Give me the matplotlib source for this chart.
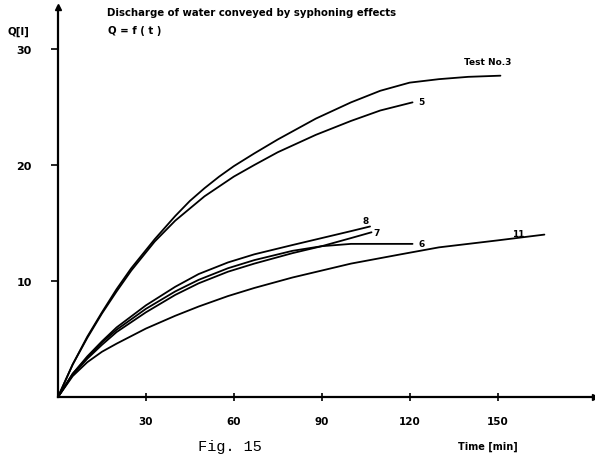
import matplotlib
matplotlib.use("Agg")
import matplotlib.pyplot as plt

# --- data ---
t3 = [0, 5, 10, 15, 20, 25, 33, 40, 45, 50, 55, 60, 67, 75, 88, 100, 110, 120, 130, 140, 151]
q3 = [0, 2.8, 5.2, 7.3, 9.3, 11.1, 13.6, 15.6, 16.9, 18.0, 19.0, 19.9, 21.0, 22.2, 24.0, 25.4, 26.4, 27.1, 27.4, 27.6, 27.7]

t5 = [0, 5, 10, 15, 20, 25, 33, 40, 50, 60, 67, 75, 88, 100, 110, 121]
q5 = [0, 2.8, 5.1, 7.2, 9.1, 10.9, 13.4, 15.2, 17.3, 19.0, 20.0, 21.1, 22.6, 23.8, 24.7, 25.4]

t8 = [0, 5, 10, 15, 20, 30, 40, 48, 58, 67, 80, 90, 100, 106.5]
q8 = [0, 2.0, 3.5, 4.8, 6.0, 7.9, 9.5, 10.6, 11.6, 12.3, 13.1, 13.7, 14.3, 14.7]

t7 = [0, 5, 10, 15, 20, 30, 40, 48, 58, 67, 80, 90, 100, 107]
q7 = [0, 1.9, 3.3, 4.5, 5.6, 7.3, 8.8, 9.8, 10.8, 11.5, 12.4, 13.0, 13.7, 14.2]

t6 = [0, 5, 10, 15, 20, 30, 40, 48, 58, 67, 80, 90, 100, 110, 121]
q6 = [0, 2.0, 3.4, 4.7, 5.8, 7.6, 9.1, 10.1, 11.1, 11.8, 12.6, 13.0, 13.2, 13.2, 13.2]

t11 = [0, 5, 10, 15, 20, 30, 40, 48, 58, 67, 80, 90, 100, 117, 130, 150, 166]
q11 = [0, 1.8, 3.0, 3.9, 4.6, 5.9, 7.0, 7.8, 8.7, 9.4, 10.3, 10.9, 11.5, 12.3, 12.9, 13.5, 14.0]

x_ticks = [30, 60, 90, 120, 150]
y_ticks = [10, 20, 30]

fig = plt.figure(figsize=(5.95, 4.56), dpi=100)
ax = fig.add_axes([58/595, 58/456, 537/595, 390/456])
ax.set_xlim(0, 537/2.93)
ax.set_ylim(0, 390/11.6)

lw = 1.3
for t, q in [(t3, q3), (t5, q5), (t8, q8), (t7, q7), (t6, q6), (t11, q11)]:
    ax.plot(t, q, color="black", lw=lw, solid_capstyle="round", solid_joinstyle="round")

for s in ["top", "right"]:
    ax.spines[s].set_visible(False)
for s in ["left", "bottom"]:
    ax.spines[s].set_linewidth(1.6)
    ax.spines[s].set_color("black")

# arrowheads
ax.plot([0], [1], marker="^", color="black", markersize=5, transform=ax.transAxes, clip_on=False)
ax.plot([1], [0], marker=">", color="black", markersize=5, transform=ax.transAxes, clip_on=False)

ax.set_xticks(x_ticks)
ax.set_yticks(y_ticks)
ax.set_xticklabels([str(v) for v in x_ticks], fontsize=7.5, fontweight="bold")
ax.set_yticklabels([str(v) for v in y_ticks], fontsize=8, fontweight="bold")
ax.tick_params(axis="x", direction="inout", length=6, width=1.2, pad=11)
ax.tick_params(axis="y", direction="out", length=5, width=1.2, pad=14)

# texts
fig.text(107/595, 1 - 13/456, "Discharge of water conveyed by syphoning effects",
         fontsize=7.3, fontweight="bold", va="center", ha="left")
fig.text(108/595, 1 - 31/456, "Q = f ( t )", fontsize=7.3, fontweight="bold", va="center", ha="left")
fig.text(8/595, 1 - 32/456, "Q[l]", fontsize=7.5, fontweight="bold", va="center", ha="left")
fig.text(458/595, 1 - 447/456, "Time [min]", fontsize=7, fontweight="bold", va="center", ha="left")
fig.text(198/595, 1 - 447/456, "Fig. 15", fontsize=11, family="Liberation Mono", va="center", ha="left")

lab = dict(fontsize=6.5, fontweight="bold", ha="left", va="center")
ax.text(138.5, 28.9, "Test No.3", **lab)
ax.text(123, 25.5, "5", **lab)
ax.text(104, 15.2, "8", **lab)
ax.text(107.5, 14.2, "7", **lab)
ax.text(123, 13.2, "6", **lab)
ax.text(155, 14.1, "11", **lab)

fig.savefig("out.png", dpi=100)
